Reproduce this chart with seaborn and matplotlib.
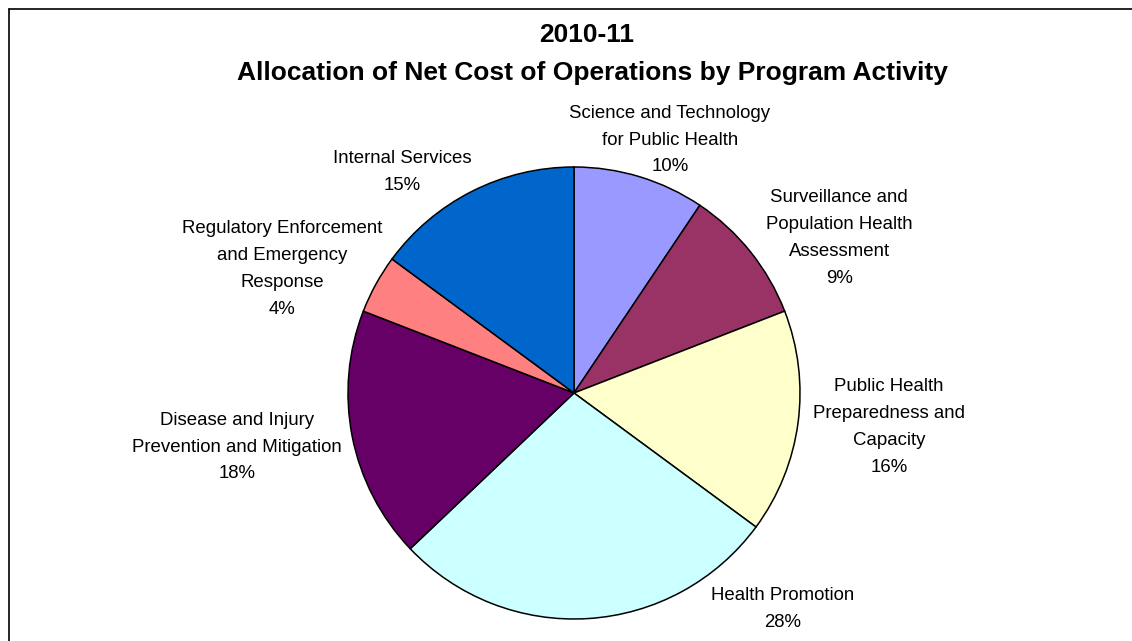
import matplotlib
matplotlib.use("Agg")
import matplotlib.pyplot as plt
import seaborn as sns
from matplotlib.lines import Line2D

# ---- data ----
categories = [
    "Science and Technology\nfor Public Health",
    "Surveillance and\nPopulation Health\nAssessment",
    "Public Health\nPreparedness and\nCapacity",
    "Health Promotion",
    "Disease and Injury\nPrevention and Mitigation",
    "Regulatory Enforcement\nand Emergency\nResponse",
    "Internal Services",
]
shares = [9.4, 9.7, 16.0, 27.8, 18.0, 4.2, 14.9]
pct_labels = ["10%", "9%", "16%", "28%", "18%", "4%", "15%"]
colors = ["#9999FF", "#993366", "#FFFFCC", "#CCFFFF", "#660066", "#FF8080", "#0066CC"]

title_year = "2010-11"
title_main = "Allocation of Net Cost of Operations by Program Activity"

# ---- layout (label centres in pie units) ----
label_pos = [(0.425, 1.119), (1.173, 0.686), (1.394, -0.150), (0.925, -0.956),
             (-1.49, -0.239), (-1.292, 0.549), (-0.761, 0.978)]

sns.set_theme(style="white")
plt.rcParams["font.family"] = ["Liberation Sans", "DejaVu Sans"]
plt.rcParams["text.color"] = "black"

W, H = 1132, 641
fig = plt.figure(figsize=(W / 100, H / 100), dpi=100)
fig.patch.set_facecolor("white")

cx, cy, r = 574, 393, 226
ax = fig.add_axes([(cx - r) / W, (H - cy - r) / H, 2 * r / W, 2 * r / H])
ax.pie(shares, colors=colors, startangle=90, counterclock=False, radius=1,
       wedgeprops=dict(edgecolor="black", linewidth=1.1))
ax.set_xlim(-1, 1)
ax.set_ylim(-1, 1)
ax.set_aspect("equal")
ax.axis("off")

for cat, pct, (x, y) in zip(categories, pct_labels, label_pos):
    ax.text(x, y, cat + "\n" + pct, ha="center", va="center", fontsize=13.4,
            linespacing=1.75, color="black", clip_on=False)

fig.text(587 / W, 1 - 35 / H, title_year, ha="center", va="center",
         fontsize=19, fontweight="bold", color="black")
fig.text(592 / W, 1 - 73 / H, title_main, ha="center", va="center",
         fontsize=19, fontweight="bold", color="black")

# chart frame (top and left edges visible)
fig.add_artist(Line2D([9 / W, 1.0], [1 - 9 / H, 1 - 9 / H], transform=fig.transFigure,
                      color="black", linewidth=1.2))
fig.add_artist(Line2D([9 / W, 9 / W], [0.0, 1 - 9 / H], transform=fig.transFigure,
                      color="black", linewidth=1.2))

fig.savefig("out.png", dpi=100, facecolor="white")
